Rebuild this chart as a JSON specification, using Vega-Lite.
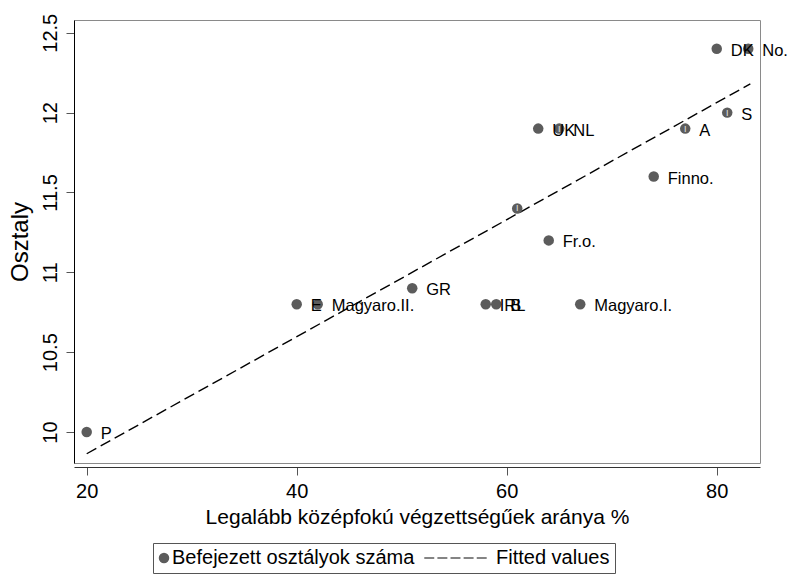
{
  "$schema": "https://vega.github.io/schema/vega-lite/v6.json",
  "width": 686,
  "height": 443,
  "autosize": {"type": "none"},
  "padding": {"left": 74, "top": 20, "right": 27, "bottom": 113},
  "background": "white",
  "config": {
    "font": "Liberation Sans",
    "view": {"stroke": "#8a8a8a", "strokeWidth": 1},
    "axis": {"grid": false, "labelColor": "#000", "titleColor": "#000", "titleFontWeight": "normal", "labelFont": "Liberation Sans", "titleFont": "Liberation Sans"}
  },
  "datasets": {
    "countries": [
      {"country": "P", "pct": 20, "years": 10.0, "label": "P"},
      {"country": "E", "pct": 40, "years": 10.8, "label": "E"},
      {"country": "Magyaro.II.", "pct": 42, "years": 10.8, "label": "Magyaro.II."},
      {"country": "GR", "pct": 51, "years": 10.9, "label": "GR"},
      {"country": "IRL", "pct": 58, "years": 10.8, "label": "IRL"},
      {"country": "B", "pct": 59, "years": 10.8, "label": "B"},
      {"country": "I", "pct": 61, "years": 11.4, "label": ""},
      {"country": "UK", "pct": 63, "years": 11.9, "label": "UK"},
      {"country": "Fr.o.", "pct": 64, "years": 11.2, "label": "Fr.o."},
      {"country": "NL", "pct": 65, "years": 11.9, "label": "NL"},
      {"country": "Magyaro.I.", "pct": 67, "years": 10.8, "label": "Magyaro.I."},
      {"country": "Finno.", "pct": 74, "years": 11.6, "label": "Finno."},
      {"country": "A", "pct": 77, "years": 11.9, "label": "A"},
      {"country": "DK", "pct": 80, "years": 12.4, "label": "DK"},
      {"country": "S", "pct": 81, "years": 12.0, "label": "S"},
      {"country": "No.", "pct": 83, "years": 12.4, "label": "No."}
    ],
    "fitted": [
      {"pct": 20, "fit": 9.864},
      {"pct": 83.2, "fit": 12.18}
    ]
  },
  "layer": [
    {
      "data": {"name": "fitted"},
      "mark": {"type": "line", "color": "#000", "strokeWidth": 1.4, "strokeDash": [11, 5]},
      "encoding": {
        "x": {
          "field": "pct", "type": "quantitative",
          "scale": {"domain": [18.79, 84.12], "nice": false, "zero": false},
          "axis": {
            "values": [20, 40, 60, 80], "format": "~g", "offset": 4,
            "tickSize": 8, "tickColor": "#555", "domainColor": "#333",
            "labelFontSize": 20, "labelPadding": 6, "labelFlush": false, "labelOverlap": false,
            "title": "Legalább középfokú végzettségűek aránya %", "titleFontSize": 21, "titlePadding": 5
          }
        },
        "y": {
          "field": "fit", "type": "quantitative",
          "scale": {"domain": [9.806, 12.58], "nice": false, "zero": false},
          "axis": {
            "values": [10, 10.5, 11, 11.5, 12, 12.5], "format": "~g",
            "tickSize": 8, "tickColor": "#555", "domainColor": "#000",
            "labelAngle": -90, "labelFontSize": 20, "labelPadding": 6, "labelFlush": false, "labelOverlap": false,
            "title": "Osztaly", "titleFontSize": 24, "titlePadding": 8
          }
        }
      }
    },
    {
      "data": {"name": "countries"},
      "mark": {"type": "point", "filled": true, "size": 110, "color": "#5c5c5c", "opacity": 1},
      "encoding": {
        "x": {"field": "pct", "type": "quantitative"},
        "y": {"field": "years", "type": "quantitative"},
        "shape": {
          "datum": "Befejezett osztályok száma",
          "type": "nominal",
          "scale": {
            "domain": ["Befejezett osztályok száma", "Fitted values"],
            "range": ["circle", "M-12.15,-0.13H-10.25V0.13H-12.15Z M-9.65,-0.13H-7.75V0.13H-9.65Z M-7.15,-0.13H-5.25V0.13H-7.15Z M-4.65,-0.13H-2.75V0.13H-4.65Z M-2.15,-0.13H-0.25V0.13H-2.15Z"]
          },
          "legend": {
            "title": null,
            "orient": "none",
            "legendX": 79,
            "legendY": 523,
            "direction": "horizontal",
            "labelFontSize": 20,
            "labelColor": "#000",
            "labelLimit": 500,
            "strokeColor": "#555",
            "padding": 5,
            "columnPadding": 6,
            "symbolSize": 110,
            "symbolOffset": -4,
            "labelOffset": -2,
            "encode": {
              "symbols": {
                "fill": {"value": {"expr": "datum.value === 'Fitted values' ? '#000' : '#5c5c5c'"}}
              }
            }
          }
        }
      }
    },
    {
      "data": {"name": "countries"},
      "transform": [{"filter": "indexof(['I', 'NL', 'A', 'S'], datum.country) >= 0"}],
      "mark": {"type": "text", "text": "I", "fontSize": 9, "color": "#e6e6e6", "align": "center", "baseline": "middle"},
      "encoding": {
        "x": {"field": "pct", "type": "quantitative"},
        "y": {"field": "years", "type": "quantitative"}
      }
    },
    {
      "data": {"name": "countries"},
      "mark": {"type": "text", "align": "left", "baseline": "middle", "dx": 14, "dy": 2, "fontSize": 16.5, "color": "#000"},
      "encoding": {
        "x": {"field": "pct", "type": "quantitative"},
        "y": {"field": "years", "type": "quantitative"},
        "text": {"field": "label"}
      }
    }
  ]
}
